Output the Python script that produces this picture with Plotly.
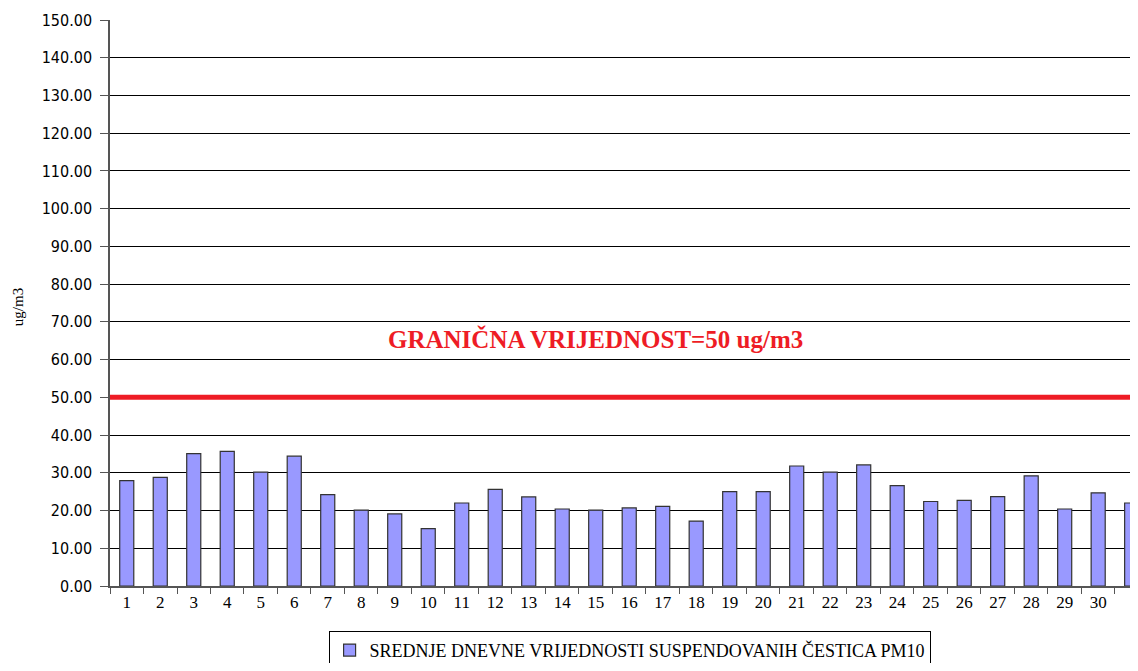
import plotly.graph_objects as go

days = list(range(1, 32))
pm10 = [27.9, 28.8, 35.1, 35.7, 30.2, 34.4, 24.2, 20.1, 19.1, 15.2,
        22.0, 25.6, 23.6, 20.4, 20.1, 20.7, 21.1, 17.2, 25.0, 25.0,
        31.8, 30.2, 32.1, 26.6, 22.4, 22.7, 23.7, 29.2, 20.4, 24.7, 22.0]
limit_value = 50
series_name = "SREDNJE DNEVNE VRIJEDNOSTI SUSPENDOVANIH ČESTICA PM10"
limit_text = "GRANIČNA VRIJEDNOST=50 ug/m3"
y_ticks = [i * 10 for i in range(16)]

SERIF = "Times New Roman, Liberation Serif, serif"

fig = go.Figure()
fig.add_trace(go.Bar(
    x=days, y=pm10, name=series_name,
    marker=dict(color="#9999FF", line=dict(color="#333333", width=1.2)),
    showlegend=True,
))

fig.add_shape(type="line", xref="paper", yref="y", x0=0, x1=1,
              y0=limit_value, y1=limit_value,
              line=dict(color="#EE1C25", width=5), layer="above")

fig.add_annotation(text="<b>" + limit_text + "</b>", xref="x", yref="y",
                   x=14.98, y=65.5, showarrow=False,
                   font=dict(family=SERIF, size=25, color="#EE1C25"))

fig.add_annotation(text="ug/m3", xref="paper", yref="paper",
                   x=-0.090, y=0.493, textangle=-90, showarrow=False,
                   xanchor="center", yanchor="middle",
                   font=dict(family=SERIF, size=15, color="#000000"))

fig.update_layout(
    width=1122, height=655,
    margin=dict(l=102, r=0, t=12, b=77),
    plot_bgcolor="white", paper_bgcolor="white",
    bargap=0.58,
    showlegend=True,
    legend=dict(orientation="h", xref="container", yref="container",
                x=0.554, xanchor="center", y=0.049, yanchor="top",
                bordercolor="#000000", borderwidth=1,
                font=dict(family=SERIF, size=18, color="#000000"),
                itemwidth=30),
    xaxis=dict(range=[0.5, 30.95], tickvals=days, ticktext=[str(d) for d in days],
               ticks="", showgrid=False, zeroline=False, automargin=False,
               showline=True, linecolor="#555555", linewidth=1.5,
               tickfont=dict(family=SERIF, size=17, color="#000000"),
               minor=dict(ticks="outside", tick0=0.5, dtick=1, ticklen=6,
                          tickcolor="#555555", showgrid=False)),
    yaxis=dict(range=[0, 150], tickvals=y_ticks,
               ticktext=[f"{v:.2f}" for v in y_ticks],
               ticks="outside", ticklen=8, tickcolor="#555555",
               ticklabelstandoff=5, automargin=False,
               showgrid=True, gridcolor="#000000", gridwidth=1,
               zeroline=False, showline=True, linecolor="#555555", linewidth=1.5,
               tickfont=dict(family="DejaVu Sans Condensed, DejaVu Sans", size=16,
                             color="#000000")),
)

fig.write_html("out.html")
